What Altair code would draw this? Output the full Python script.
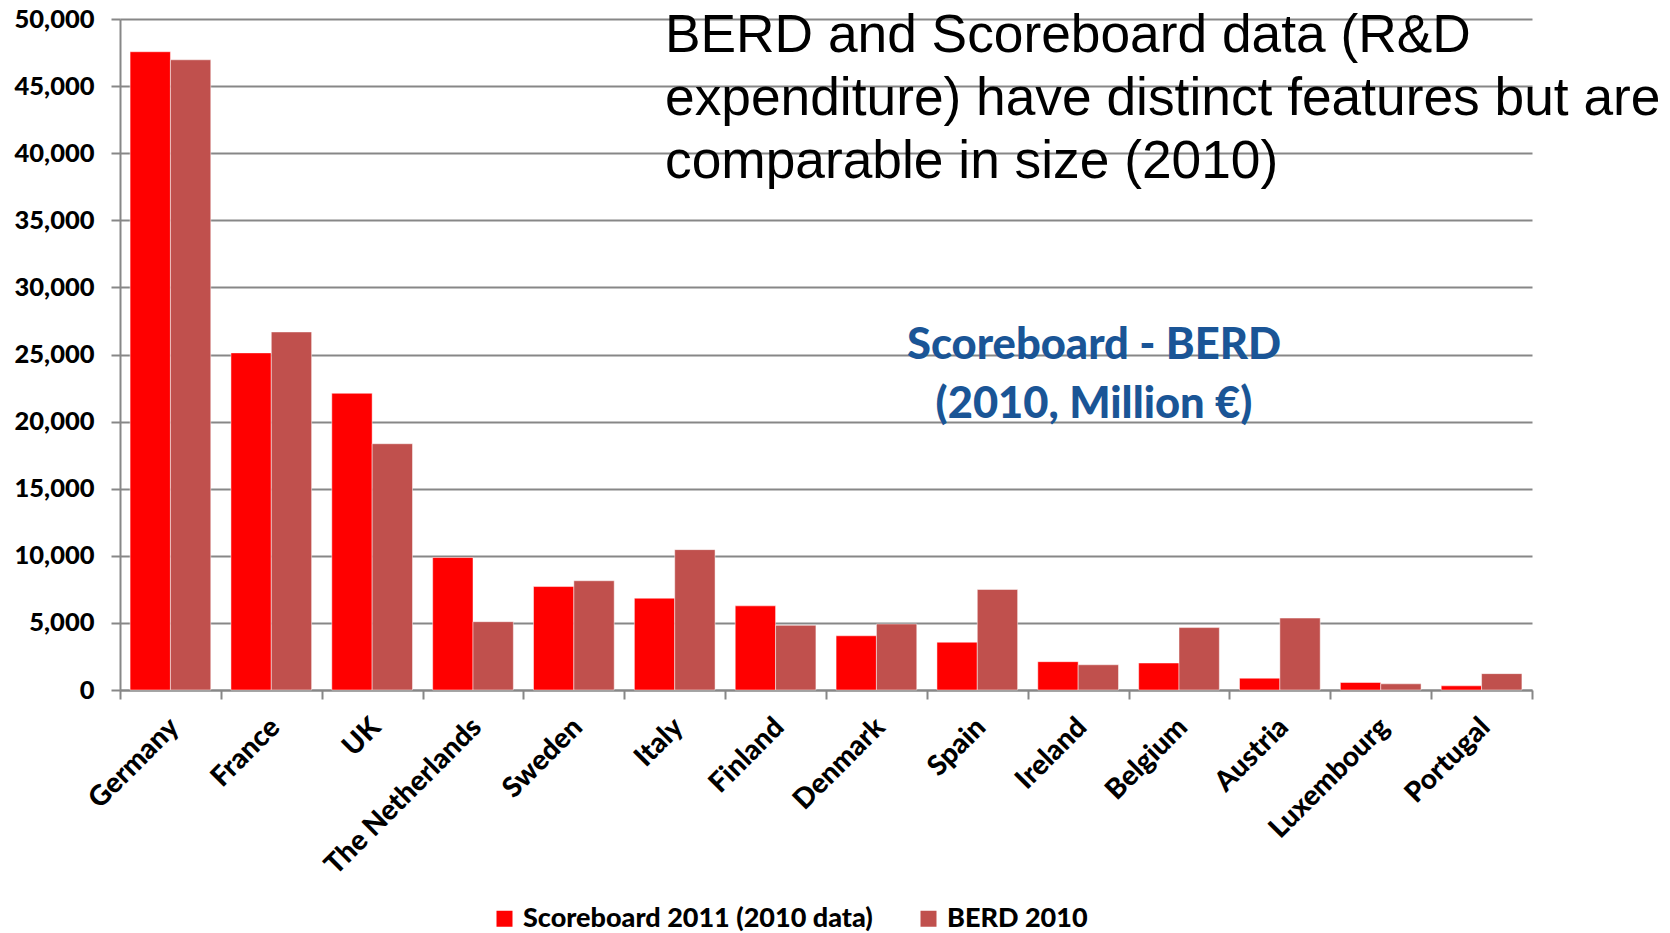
import altair as alt
import pandas as pd

# R&D expenditure by country, million EUR (2010)
countries = ["Germany", "France", "UK", "The Netherlands", "Sweden", "Italy", "Finland",
             "Denmark", "Spain", "Ireland", "Belgium", "Austria", "Luxembourg", "Portugal"]
scoreboard = [47560, 25120, 22110, 9870, 7710, 6840, 6270, 4040, 3560, 2110, 2010, 880, 560, 310]
berd = [46960, 26680, 18350, 5090, 8140, 10460, 4820, 4920, 7490, 1880, 4650, 5360, 460, 1220]

series = ["Scoreboard 2011 (2010 data)", "BERD 2010"]
colors = ["#FF0000", "#C0504D"]
y_ticks = list(range(0, 50001, 5000))

title_lines = ["BERD and Scoreboard data (R&D",
               "expenditure) have distinct features but are",
               "comparable in size (2010)"]
note_lines = ["Scoreboard - BERD", "(2010, Million \u20ac)"]

rows = []
for c, s, b in zip(countries, scoreboard, berd):
    rows.append({"country": c, "series": series[0], "value": s})
    rows.append({"country": c, "series": series[1], "value": b})
df = pd.DataFrame(rows)

LABEL_FONT = "Lato"
WEIGHT = 900
GRID = "#878787"

bars = alt.Chart(df).mark_bar(stroke="white", strokeWidth=0.8, strokeOpacity=0.6).encode(
    x=alt.X(
        "country:N",
        sort=countries,
        title=None,
        scale=alt.Scale(paddingInner=0, paddingOuter=0),
        axis=alt.Axis(
            labelAngle=-45,
            labelAlign="right",
            labelBaseline="top",
            labelFont=LABEL_FONT,
            labelFontWeight=WEIGHT,
            labelFontSize=28,
            labelColor="black",
            labelPadding=14,
            labelOffset=-6,
            labelLimit=400,
            tickBand="extent",
            tickSize=9,
            tickWidth=2,
            tickColor=GRID,
            domainColor=GRID,
            domainWidth=2,
            grid=False,
        ),
    ),
    xOffset=alt.XOffset("series:N", sort=series,
                        scale=alt.Scale(paddingOuter=0.25, paddingInner=0)),
    y=alt.Y(
        "value:Q",
        title=None,
        scale=alt.Scale(domain=[0, 50000], nice=False),
        axis=alt.Axis(
            values=y_ticks,
            format=",.0f",
            labelFont=LABEL_FONT,
            labelFontWeight=WEIGHT,
            labelFontSize=25.5,
            labelColor="black",
            labelPadding=17,
            tickSize=9,
            tickWidth=2,
            tickColor=GRID,
            domainColor=GRID,
            domainWidth=2,
            grid=True,
            gridColor=GRID,
            gridWidth=2,
        ),
    ),
    color=alt.Color(
        "series:N",
        sort=series,
        scale=alt.Scale(domain=series, range=colors),
        legend=alt.Legend(
            title=None,
            orient="none",
            direction="horizontal",
            legendX=371,
            legendY=886,
            symbolType="square",
            symbolSize=256,
            symbolStrokeWidth=0,
            labelFont=LABEL_FONT,
            labelFontWeight=WEIGHT,
            labelFontSize=27,
            labelColor="black",
            labelOffset=5,
            columnPadding=42,
            labelLimit=600,
        ),
    ),
)

headline = alt.Chart(pd.DataFrame({"t": ["\n".join(title_lines)]})).mark_text(
    align="left",
    baseline="alphabetic",
    font="Liberation Sans",
    fontSize=53.3,
    lineBreak="\n",
    lineHeight=63,
    color="black",
).encode(x=alt.value(545), y=alt.value(33), text="t:N")

note = alt.Chart(pd.DataFrame({"t": ["\n".join(note_lines)]})).mark_text(
    align="center",
    baseline="middle",
    font=LABEL_FONT,
    fontWeight=WEIGHT,
    fontSize=43.5,
    lineBreak="\n",
    lineHeight=59,
    color="#1A5596",
).encode(x=alt.value(974), y=alt.value(327), text="t:N")

chart = alt.layer(bars, headline, note).properties(
    width=1412,
    height=671,
    autosize=alt.AutoSizeParams(type="none"),
    padding={"left": 120, "top": 19, "right": 138, "bottom": 243},
    background="white",
).configure_view(stroke=None)

chart.save("out.html", embed_options={"renderer": "svg", "actions": False})
